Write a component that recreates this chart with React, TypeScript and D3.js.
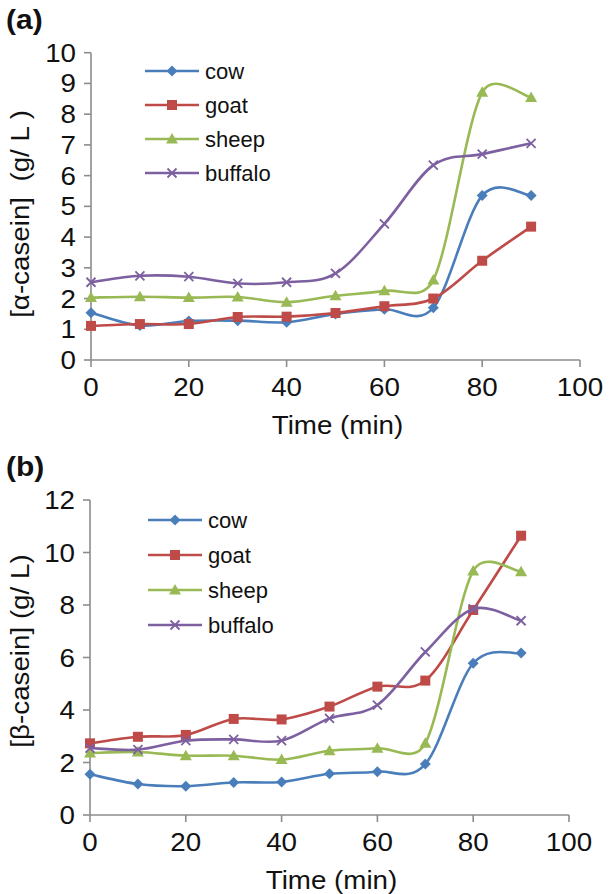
import React from "react";
import * as d3 from "d3";

const times = [0, 10, 20, 30, 40, 50, 60, 70, 80, 90];
const seriesNames = ["cow", "goat", "sheep", "buffalo"];
const seriesColors = ["#4A7EBB", "#BE4B48", "#98B954", "#7D60A0"];
const seriesMarkers = ["diamond", "square", "triangle", "x"];

const alphaCow = [1.54, 1.12, 1.27, 1.28, 1.23, 1.5, 1.65, 1.7, 5.35, 5.35];
const alphaGoat = [1.11, 1.17, 1.17, 1.4, 1.41, 1.53, 1.75, 2.0, 3.23, 4.34];
const alphaSheep = [2.03, 2.06, 2.03, 2.05, 1.88, 2.09, 2.25, 2.6, 8.71, 8.54];
const alphaBuffalo = [2.53, 2.74, 2.71, 2.49, 2.53, 2.82, 4.43, 6.34, 6.7, 7.05];

const betaCow = [1.55, 1.18, 1.1, 1.24, 1.26, 1.57, 1.65, 1.94, 5.78, 6.17];
const betaGoat = [2.73, 2.98, 3.05, 3.66, 3.64, 4.13, 4.89, 5.12, 7.81, 10.64];
const betaSheep = [2.36, 2.4, 2.26, 2.26, 2.11, 2.45, 2.54, 2.73, 9.3, 9.27];
const betaBuffalo = [2.55, 2.49, 2.83, 2.88, 2.83, 3.68, 4.19, 6.21, 7.85, 7.4];

const xTicks = [0, 20, 40, 60, 80, 100];
const alphaYTicks = [0, 1, 2, 3, 4, 5, 6, 7, 8, 9, 10];
const betaYTicks = [0, 2, 4, 6, 8, 10, 12];

const FONT = "'Liberation Sans', Arial, Helvetica, sans-serif";
const AXIS = "#8c8c8c";
const SX = 1.11;

// Excel-like smoothed line: Catmull-Rom tangents (1/6) capped at half the segment length.
function excelCurve(context: any) {
  let pts: [number, number][] = [];
  return {
    areaStart() {},
    areaEnd() {},
    lineStart() {
      pts = [];
    },
    point(x: number, y: number) {
      pts.push([+x, +y]);
    },
    lineEnd() {
      const n = pts.length;
      if (!n) return;
      context.moveTo(pts[0][0], pts[0][1]);
      const tan = (i: number): [number, number] => {
        const a = pts[Math.max(0, i - 1)];
        const b = pts[Math.min(n - 1, i + 1)];
        return [(b[0] - a[0]) / 6, (b[1] - a[1]) / 6];
      };
      const cap = (t: [number, number], maxLen: number): [number, number] => {
        const l = Math.hypot(t[0], t[1]);
        if (l > maxLen && l > 0) return [(t[0] * maxLen) / l, (t[1] * maxLen) / l];
        return t;
      };
      for (let i = 0; i < n - 1; i++) {
        const p0 = pts[i];
        const p1 = pts[i + 1];
        const half = Math.hypot(p1[0] - p0[0], p1[1] - p0[1]) / 2;
        const t0 = cap(tan(i), half);
        const t1 = cap(tan(i + 1), half);
        context.bezierCurveTo(p0[0] + t0[0], p0[1] + t0[1], p1[0] - t1[0], p1[1] - t1[1], p1[0], p1[1]);
      }
    },
  };
}

function Marker({ type, x, y, color }: { type: string; x: number; y: number; color: string }) {
  if (type === "diamond") {
    const s = 5.5;
    return <path d={`M${x},${y - s}L${x + s},${y}L${x},${y + s}L${x - s},${y}Z`} fill={color} />;
  }
  if (type === "square") {
    const s = 5;
    return <rect x={x - s} y={y - s} width={2 * s} height={2 * s} fill={color} />;
  }
  if (type === "triangle") {
    const s = 6;
    return <path d={`M${x},${y - s}L${x + s},${y + s * 0.75}L${x - s},${y + s * 0.75}Z`} fill={color} />;
  }
  const s = 4.5;
  return (
    <path
      d={`M${x - s},${y - s}L${x + s},${y + s}M${x - s},${y + s}L${x + s},${y - s}`}
      stroke={color}
      strokeWidth={1.8}
    />
  );
}

function SText(props: {
  x: number;
  y: number;
  anchor?: string;
  size: number;
  weight?: string;
  rotate?: number;
  dy?: string;
  children: React.ReactNode;
}) {
  const rot = props.rotate ? ` rotate(${props.rotate})` : "";
  return (
    <text
      transform={`translate(${props.x},${props.y})${rot} scale(${SX},1)`}
      textAnchor={props.anchor || "start"}
      fontSize={props.size}
      fontWeight={props.weight || "normal"}
      dy={props.dy}
      fill="#111"
      style={{ whiteSpace: "pre" }}
    >
      {props.children}
    </text>
  );
}

type PanelProps = {
  label: string;
  yTitle: string;
  yTitleCenter: number;
  yTicks: number[];
  yMax: number;
  data: number[][];
  left: number;
  right: number;
  top: number;
  bottom: number;
  legendX: number;
  legendY: number;
  legendGap: number;
};

function Panel(p: PanelProps) {
  const x = d3.scaleLinear().domain([0, 100]).range([p.left, p.right]);
  const y = d3.scaleLinear().domain([0, p.yMax]).range([p.bottom, p.top]);
  const line = d3
    .line<number>()
    .x((_, i) => x(times[i]))
    .y((d) => y(d))
    .curve(excelCurve as any);
  return (
    <g fontFamily={FONT}>
      <SText x={6} y={p.top - 24} size={27} weight="bold">
        {p.label}
      </SText>
      <line x1={p.left} x2={p.left} y1={p.top} y2={p.bottom} stroke={AXIS} strokeWidth={1.6} />
      <line x1={p.left} x2={p.right} y1={p.bottom} y2={p.bottom} stroke={AXIS} strokeWidth={1.6} />
      {p.yTicks.map((t) => (
        <g key={"y" + t}>
          <line x1={p.left - 7} x2={p.left} y1={y(t)} y2={y(t)} stroke={AXIS} strokeWidth={1.6} />
          <SText x={p.left - 15} y={y(t)} dy="0.36em" anchor="end" size={25}>
            {t}
          </SText>
        </g>
      ))}
      {xTicks.map((t) => (
        <g key={"x" + t}>
          <line x1={x(t)} x2={x(t)} y1={p.bottom} y2={p.bottom + 7} stroke={AXIS} strokeWidth={1.6} />
          <SText x={x(t)} y={p.bottom + 36} anchor="middle" size={25}>
            {t}
          </SText>
        </g>
      ))}
      <SText x={(p.left + p.right) / 2 + 2} y={p.bottom + 74} anchor="middle" size={25}>
        Time (min)
      </SText>
      <SText x={29} y={p.yTitleCenter} anchor="middle" size={25} rotate={-90}>
        {p.yTitle}
      </SText>
      {p.data.map((vals, si) => (
        <g key={seriesNames[si]}>
          <path d={line(vals) || ""} fill="none" stroke={seriesColors[si]} strokeWidth={2.6} />
          {vals.map((v, i) => (
            <Marker key={i} type={seriesMarkers[si]} x={x(times[i])} y={y(v)} color={seriesColors[si]} />
          ))}
        </g>
      ))}
      {seriesNames.map((n, si) => {
        const ly = p.legendY + si * p.legendGap;
        return (
          <g key={"lg" + n}>
            <line x1={p.legendX} x2={p.legendX + 54} y1={ly} y2={ly} stroke={seriesColors[si]} strokeWidth={2.6} />
            <Marker type={seriesMarkers[si]} x={p.legendX + 27} y={ly} color={seriesColors[si]} />
            <text x={p.legendX + 60} y={ly} dy="0.36em" fontSize={22} fill="#111">
              {n}
            </text>
          </g>
        );
      })}
    </g>
  );
}

export default function App() {
  return (
    <svg width={611} height={894} style={{ position: "absolute", left: 0, top: 0, background: "#fff" }}>
      <rect width={611} height={894} fill="#fff" />
      <Panel
        label="(a)"
        yTitle={"[\u03b1-casein]  (g/ L )"}
        yTitleCenter={214}
        yTicks={alphaYTicks}
        yMax={10}
        data={[alphaCow, alphaGoat, alphaSheep, alphaBuffalo]}
        left={91}
        right={580}
        top={52.7}
        bottom={360}
        legendX={145}
        legendY={71}
        legendGap={34}
      />
      <Panel
        label="(b)"
        yTitle={"[\u03b2-casein] (g/ L)"}
        yTitleCenter={651}
        yTicks={betaYTicks}
        yMax={12}
        data={[betaCow, betaGoat, betaSheep, betaBuffalo]}
        left={90}
        right={569}
        top={500}
        bottom={815}
        legendX={148}
        legendY={520}
        legendGap={35}
      />
    </svg>
  );
}
